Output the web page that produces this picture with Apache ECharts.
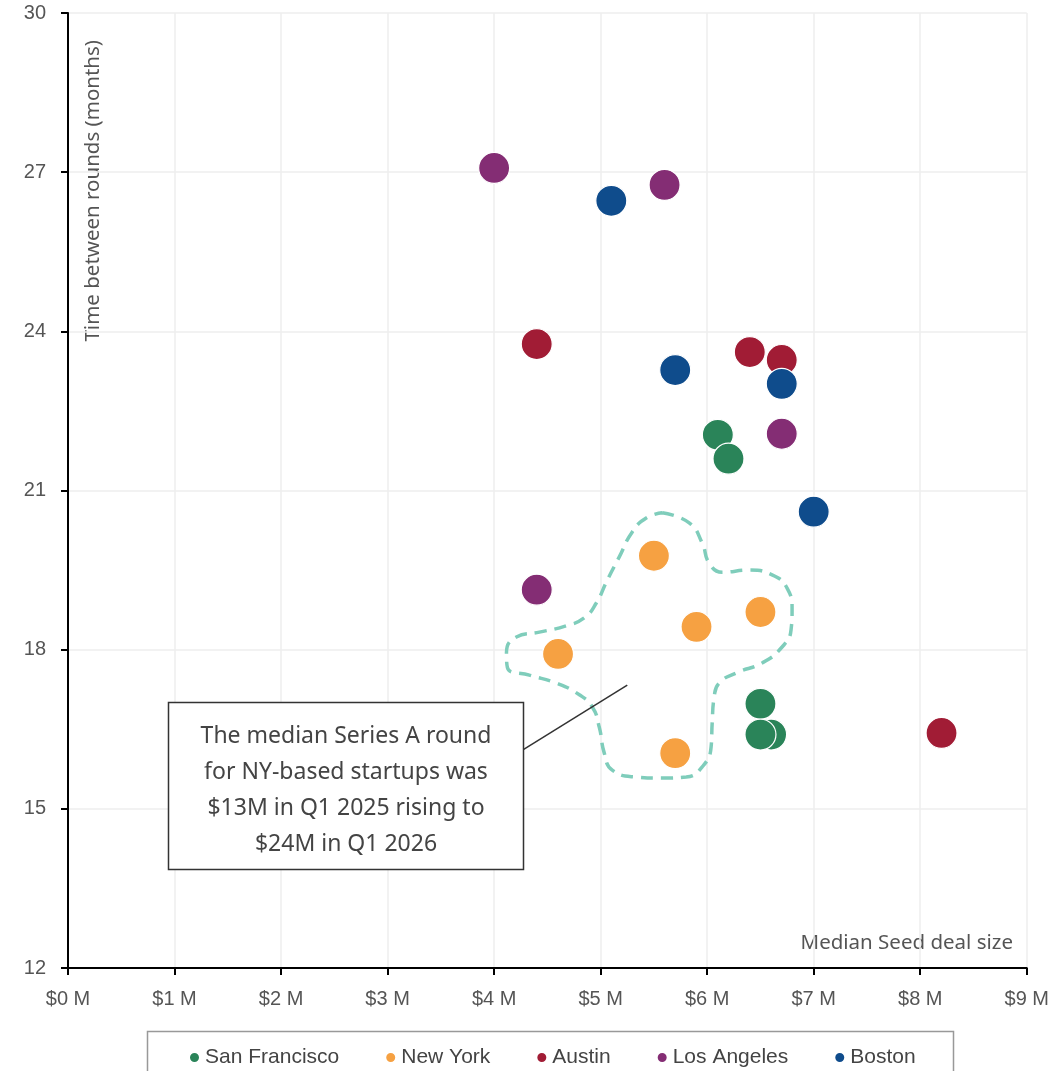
<!DOCTYPE html>
<html>
<head>
<meta charset="utf-8">
<script src="https://cdn.jsdelivr.net/npm/echarts@6/dist/echarts.min.js"></script>
<style>html,body{margin:0;padding:0;background:#fff}#c{width:1052px;height:1071px}</style>
</head>
<body>
<div id="c"></div>
<script>
const cities = ['San Francisco', 'New York', 'Austin', 'Los Angeles', 'Boston'];
const colors = ['#2a8459', '#f6a142', '#a11c35', '#842d74', '#0f4c8c'];
const sanFrancisco = [[6.1, 22.05], [6.2, 21.6], [6.5, 16.98], [6.6, 16.4], [6.5, 16.4]];
const newYork = [[5.5, 19.77], [6.5, 18.71], [5.9, 18.43], [4.6, 17.92], [5.7, 16.05]];
const austin = [[4.4, 23.76], [6.4, 23.61], [6.7, 23.46], [8.2, 16.43]];
const losAngeles = [[4.0, 27.08], [5.6, 26.76], [6.7, 22.07], [4.4, 19.13]];
const boston = [[5.1, 26.46], [5.7, 23.27], [6.7, 23.01], [7.0, 20.6]];
const xTicks = [0, 1, 2, 3, 4, 5, 6, 7, 8, 9];
const yTicks = [12, 15, 18, 21, 24, 27, 30];
// highlight outline around the New York cluster (data coordinates)
const nyOutline = [[5.578,20.58],[5.831,20.39],[5.953,20.01],[6.019,19.63],[6.141,19.46],[6.394,19.50],[6.609,19.41],[6.750,19.16],[6.797,18.75],[6.787,18.37],[6.703,18.05],[6.516,17.75],[6.272,17.56],[6.112,17.37],[6.066,17.11],[6.047,16.62],[6.037,16.17],[5.953,15.79],[5.803,15.60],[5.578,15.58],[5.334,15.60],[5.109,15.73],[5.034,16.05],[4.987,16.54],[4.922,16.92],[4.800,17.15],[4.584,17.37],[4.331,17.52],[4.125,17.66],[4.116,17.94],[4.209,18.24],[4.425,18.33],[4.678,18.45],[4.847,18.60],[4.959,18.88],[5.062,19.31],[5.175,19.75],[5.297,20.22],[5.428,20.48],[5.578,20.58]];
const connector = [[4.27, 16.11], [5.25, 17.33]];
const annotationLines = ['The median Series A round', 'for NY-based startups was', '$13M in Q1 2025 rising to', '$24M in Q1 2026'];

const seriesData = [sanFrancisco, newYork, austin, losAngeles, boston];
const chart = echarts.init(document.getElementById('c'));
const tickFont = 'Liberation Sans Narrow, Liberation Sans, sans-serif';
const bodyFont = 'Noto Sans, Open Sans, sans-serif';

const series = [
  {
    type: 'line', data: nyOutline, smooth: 0.5, symbol: 'none', silent: true, z: 1,
    lineStyle: { color: '#7fcdbb', width: 3.5, type: [12, 8] }
  },
  {
    type: 'line', data: connector, symbol: 'none', silent: true, z: 1,
    lineStyle: { color: '#333', width: 1.5 }
  }
].concat(cities.map((c, i) => ({
  name: c, type: 'scatter', data: seriesData[i], symbolSize: 31, z: 3,
  itemStyle: { color: colors[i], borderColor: '#fff', borderWidth: 1.2, opacity: 1 }
})));

chart.setOption({
  animation: false,
  color: colors,
  grid: { left: 68, right: 24, top: 13, bottom: 103 },
  xAxis: {
    type: 'value', min: 0, max: 9, interval: 1,
    axisLine: { show: true, lineStyle: { color: '#000', width: 2 } },
    axisTick: { show: true, length: 7, lineStyle: { color: '#000', width: 2 } },
    axisLabel: { color: '#555', fontSize: 20, fontFamily: tickFont, margin: 21, formatter: v => '$' + v + ' M' },
    splitLine: { show: true, lineStyle: { color: '#eeeeee', width: 1.5 } }
  },
  yAxis: {
    type: 'value', min: 12, max: 30, interval: 3,
    axisLine: { show: true, lineStyle: { color: '#000', width: 2 } },
    axisTick: { show: true, length: 7, lineStyle: { color: '#000', width: 2 } },
    axisLabel: { color: '#555', fontSize: 20, fontFamily: tickFont, margin: 22 },
    splitLine: { show: true, lineStyle: { color: '#eeeeee', width: 1.5 } }
  },
  legend: {
    data: cities, left: 183, top: 1042, icon: 'circle', itemWidth: 11, itemHeight: 11, itemGap: 45,
    textStyle: { color: '#444', fontSize: 21, fontFamily: tickFont }
  },
  graphic: [
    { type: 'rect', shape: { x: 147.5, y: 1031.5, width: 806, height: 60 }, style: { fill: 'none', stroke: '#999', lineWidth: 1.5 }, z: 0 },
    { type: 'text', x: 93, y: 40, rotation: Math.PI / 2, style: { text: 'Time between rounds (months)', fill: '#555', fontSize: 20.5, fontFamily: bodyFont, align: 'right', verticalAlign: 'middle' } },
    { type: 'text', x: 1013, y: 943, style: { text: 'Median Seed deal size', fill: '#555', fontSize: 20.5, fontFamily: bodyFont, align: 'right', verticalAlign: 'middle' } },
    { type: 'rect', shape: { x: 168.5, y: 702.5, width: 355, height: 167 }, style: { fill: '#fff', stroke: '#333', lineWidth: 1.5 }, z: 5 },
    { type: 'text', x: 346, y: 718, z: 6, style: { text: annotationLines.join('\n'), fill: '#444', fontSize: 23, lineHeight: 36, fontFamily: bodyFont, align: 'center', verticalAlign: 'top' } }
  ],
  series: series
});
</script>
</body>
</html>
